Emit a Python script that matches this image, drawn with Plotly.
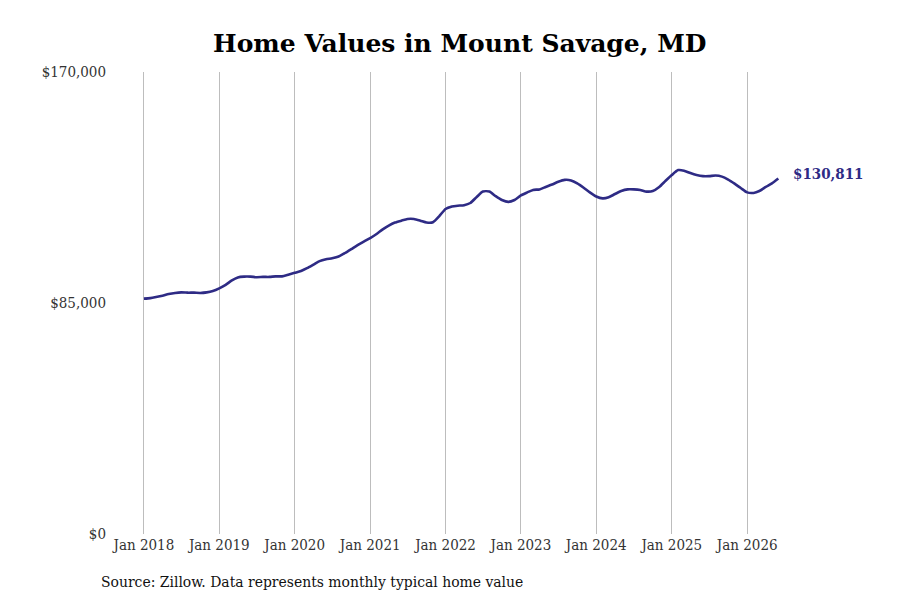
import pandas as pd
import plotly.graph_objects as go

# ── Datos (valor típico mensual) ───────────────────────────────────────────────
meses = pd.date_range("2018-01-01", "2026-06-01", freq="MS")

valores = [
    # 2018
    86600, 86800, 87200, 87700, 88300, 88700, 88900, 88800, 88800, 88700, 88900, 89400,
    # 2019
    90400, 91700, 93200, 94400, 94700, 94700, 94500, 94600, 94600, 94800, 94800, 95400,
    # 2020
    96100, 96800, 97800, 99100, 100400, 101100, 101500, 102100, 103400, 104800, 106300, 107600,
    # 2021
    108900, 110400, 112000, 113500, 114600, 115300, 115900, 115900, 115300, 114600, 114700, 116900,
    # 2022
    119600, 120500, 120800, 121000, 121800, 124000, 126000, 126000, 124300, 122900, 122200, 122900,
    # 2023
    124600, 125700, 126600, 126800, 127700, 128600, 129600, 130300, 130100, 129000, 127400, 125700,
    # 2024
    124200, 123500, 123900, 125100, 126200, 126800, 126800, 126600, 126000, 126200, 127700, 129900,
    # 2025
    132100, 133900, 133700, 132800, 132100, 131700, 131700, 131900, 131500, 130400, 128900, 127300,
    # 2026
    125700, 125500, 126200, 127700, 129000, 130811,
]

etiqueta_final = "$130,811"
titulo = "Home Values in Mount Savage, MD"
fuente = "Source: Zillow. Data represents monthly typical home value"

y_ticks = [0, 85000, 170000]
y_labels = ["$0", "$85,000", "$170,000"]
x_ticks = pd.date_range("2018-01-01", "2026-01-01", freq="YS")
x_labels = [f"Jan {d.year}" for d in x_ticks]

COLOR = "#2e2b85"
FUENTE = "DejaVu Serif Condensed, DejaVu Serif, serif"

fig = go.Figure(go.Scatter(
    x=meses, y=valores,
    mode="lines",
    line=dict(color=COLOR, width=2.6, shape="spline", smoothing=0.6),
    hovertemplate="%{x|%b %Y}<br>$%{y:,.0f}<extra></extra>",
    showlegend=False,
))

# Etiqueta del último valor
fig.add_annotation(
    x=meses[-1], y=valores[-1],
    text=f"<b>{etiqueta_final}</b>",
    showarrow=False, xanchor="left", yanchor="middle",
    xshift=13, yshift=5,
    font=dict(color=COLOR, size=15, family=FUENTE),
)
# Nota de fuente
fig.add_annotation(
    xref="paper", yref="paper",
    x=-0.021, y=-0.104,
    text=fuente, showarrow=False,
    xanchor="left", yanchor="middle",
    font=dict(color="#111111", size=15.5, family=FUENTE),
)

fig.update_layout(
    title=dict(
        text=f"<b>{titulo}</b>",
        x=0.502, xanchor="center", y=0.942, yanchor="middle",
        font=dict(size=25, family="DejaVu Serif, serif", color="#000000"),
    ),
    width=900, height=600,
    plot_bgcolor="white", paper_bgcolor="white",
    font=dict(family=FUENTE, size=15, color="#333333"),
    margin=dict(l=107, r=38, t=64, b=74),
    hovermode="closest",
)
fig.update_xaxes(
    range=["2017-08-14", "2027-08-19"],
    tickvals=x_ticks, ticktext=x_labels,
    showgrid=True, gridcolor="#bdbdbd", gridwidth=1,
    zeroline=False, showline=False, ticks="",
)
fig.update_yaxes(
    range=[0, 170000],
    tickvals=y_ticks, ticktext=y_labels,
    showgrid=False, zeroline=False, showline=False, ticks="",
    ticklabelstandoff=8,
)

fig.write_html("out.html")
